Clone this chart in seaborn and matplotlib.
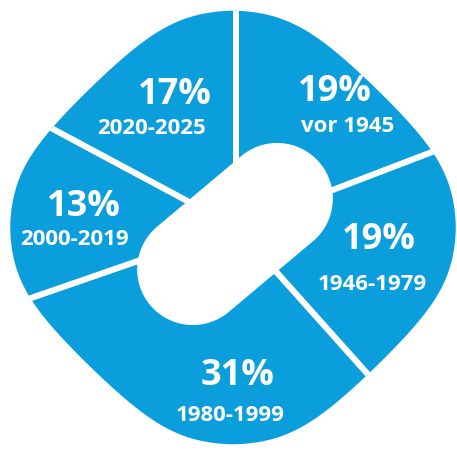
import numpy as np
import matplotlib.pyplot as plt
import seaborn as sns
from matplotlib.patches import Polygon

# =========================
# Datos
# =========================
periodos = ["vor 1945", "1946-1979", "1980-1999", "2000-2019", "2020-2025"]
anteile = [19, 19, 31, 13, 17]
etiquetas = [f"{v}%" for v in anteile]

# posiciones de texto (pixeles, y desde arriba)
pos_pct = [(335, 92), (379, 240), (238, 376), (84, 207), (175, 95)]
pos_per = [(348, 126), (372, 285), (230, 416), (74, 240), (152, 128)]

W, H = 457, 452
azul = "#0a9fdc"

sns.set_style("white")
plt.rcParams["font.family"] = ["Open Sans", "DejaVu Sans"]

fig = plt.figure(figsize=(W / 100, H / 100), dpi=100)
ax = fig.add_axes([0, 0, 1, 1])

# ---- pie ----
cx, cy = 236, H - 228
wedges, _ = ax.pie(anteile, startangle=90, counterclock=False, center=(cx, cy), radius=320,
                   colors=[azul] * len(anteile),
                   wedgeprops=dict(edgecolor="white", linewidth=4.3))

# forma exterior: circulo recortado suavemente por un rombo
t = np.linspace(0, 2 * np.pi, 720)
R, D, k = 223, 290, 16
r_rombo = D / (np.abs(np.cos(t)) + np.abs(np.sin(t)))
r = (R ** -k + r_rombo ** -k) ** (-1 / k)
ox, oy = 233, H - 228.5
xs = ox + r * np.cos(t)
ys = oy + r * np.sin(t) * (217 / 223)
borde = Polygon(np.column_stack([xs, ys]), closed=True, transform=ax.transData,
                facecolor="none", edgecolor="none")
ax.add_patch(borde)
for w in wedges:
    w.set_clip_on(True)
    w.set_clip_path(borde)

# agujero en forma de pastilla
hx, hy, L, rr, ang = 235, H - 235, 55, 55, np.deg2rad(40)
a1 = np.linspace(-np.pi / 2, np.pi / 2, 60)
a2 = np.linspace(np.pi / 2, 3 * np.pi / 2, 60)
px = np.concatenate([L + rr * np.cos(a1), -L + rr * np.cos(a2)])
py = np.concatenate([rr * np.sin(a1), rr * np.sin(a2)])
qx = hx + px * np.cos(ang) - py * np.sin(ang)
qy = hy + px * np.sin(ang) + py * np.cos(ang)
ax.fill(qx, qy, color="white", zorder=3)

# ---- textos ----
for lab, per, (x1, y1), (x2, y2) in zip(etiquetas, periodos, pos_pct, pos_per):
    ax.text(x1, H - y1, lab, color="white", fontsize=26, fontweight="bold",
            ha="center", va="center", zorder=4)
    ax.text(x2, H - y2, per, color="white", fontsize=16, fontweight="bold",
            ha="center", va="center", zorder=4)

ax.set_xlim(0, W)
ax.set_ylim(0, H)
ax.set_aspect("equal")
ax.axis("off")

fig.savefig("out.png", dpi=100, facecolor="white")
